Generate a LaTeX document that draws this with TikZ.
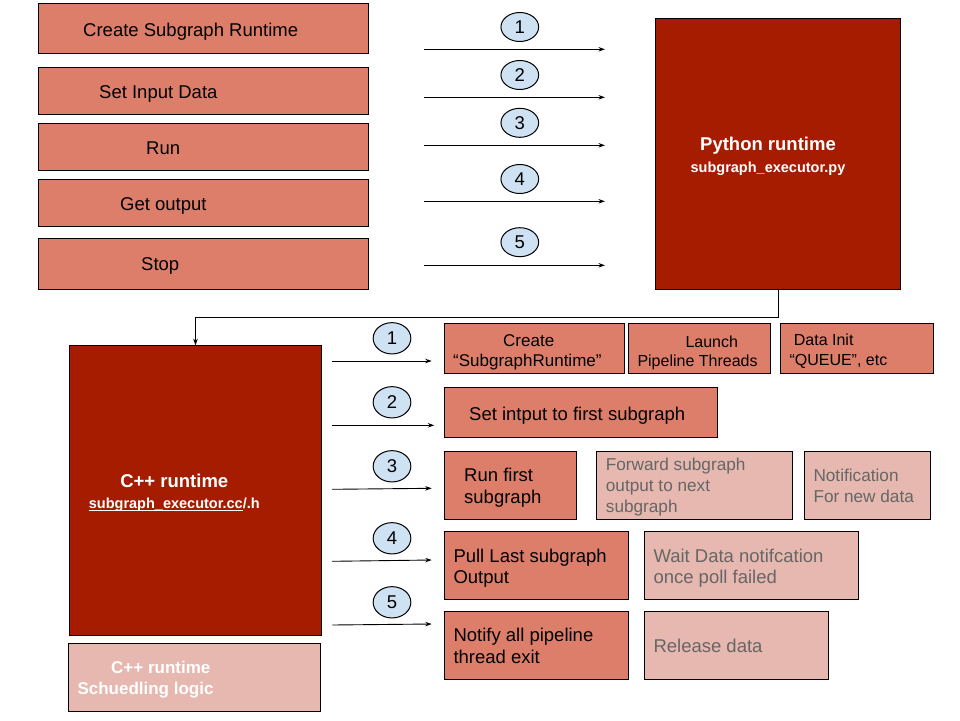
\documentclass[tikz,border=0pt]{standalone}
\usepackage{fontspec}
\setmainfont{Liberation Sans}
\usetikzlibrary{arrows.meta,shapes.geometric}
\definecolor{boxred}{HTML}{DD7E6B}
\definecolor{darkred}{HTML}{A61C00}
\definecolor{pinkbox}{HTML}{E6B8AF}
\definecolor{circblue}{HTML}{CFE2F3}
\definecolor{graytext}{HTML}{666666}
\newcommand\myul[1]{\setbox0\hbox{#1}\rlap{\rule[-1.8pt]{\wd0}{0.9pt}}\box0}
\begin{document}
\begin{tikzpicture}[x=1pt,y=-1pt,
  bx/.style={draw=black, line width=1pt, inner sep=0pt, outer sep=0pt, anchor=north west},
  redbox/.style={bx, fill=boxred},
  darkbox/.style={bx, fill=darkred},
  pinkb/.style={bx, fill=pinkbox},
  big/.style={font=\fontsize{18.5}{21.5}\selectfont, inner sep=0pt, align=left},
  midg/.style={font=\fontsize{17.2}{20.8}\selectfont, inner sep=0pt, align=left},
  mid/.style={font=\fontsize{17}{20.5}\selectfont, inner sep=0pt, align=left},
  small/.style={font=\fontsize{16}{19.5}\selectfont, inner sep=0pt, align=left},
  gtxt/.style={text=graytext},
  num/.style={ellipse, draw=black, line width=1pt, fill=circblue, minimum width=37.7pt, minimum height=29pt, inner sep=0pt, font=\fontsize{18.5}{21}\selectfont},
  numb/.style={num, minimum height=31.3pt},
  arr/.style={-{Stealth[length=6.5pt,width=4.5pt]}, line width=0.9pt}
]
\useasboundingbox (0,0) rectangle (960,720);

% ---------- top-left boxes ----------
\node[redbox, minimum width=330.4pt, minimum height=50pt] (t1) at (38.3,3.3) {};
\node[redbox, minimum width=330.4pt, minimum height=47pt] (t2) at (38.3,67.3) {};
\node[redbox, minimum width=330.4pt, minimum height=47pt] (t3) at (38.3,123.3) {};
\node[redbox, minimum width=330.4pt, minimum height=47pt] (t4) at (38.3,179.3) {};
\node[redbox, minimum width=330.4pt, minimum height=51pt] (t5) at (38.3,238.3) {};
\node[big, anchor=west] (t1l) at ([xshift=44.7pt,yshift=-3.3pt]t1.west) {Create Subgraph Runtime};
\node[big, anchor=west] (t2l) at ([xshift=60.7pt,yshift=-2.8pt]t2.west) {Set Input Data};
\node[big, anchor=west] (t3l) at ([xshift=107.7pt,yshift=-1pt]t3.west) {Run};
\node[big, anchor=west] (t4l) at ([xshift=81.7pt,yshift=-2.8pt]t4.west) {Get output};
\node[big, anchor=west] (t5l) at ([xshift=102.7pt,yshift=-1.8pt]t5.west) {Stop};

% ---------- top arrows ----------
\foreach \i/\y/\cy in {1/49.3/27, 2/97.3/75, 3/145.3/122.8, 4/201.3/179, 5/265.3/242.2}{
  \coordinate (as\i) at (424,\y);
  \coordinate (ae\i) at (605,\y);
  \draw[arr] (as\i) -- (ae\i);
  \node[num] (n\i) at (519.8,\cy) {\i};
}

% ---------- Python runtime ----------
\node[darkbox, minimum width=245.4pt, minimum height=271pt] (py) at (655.3,18.3) {};
\node[align=center, text=white, inner sep=0pt, font=\fontsize{18.5}{22.3}\selectfont\bfseries] (pyl) at (768,156)
  {Python runtime\\{\fontsize{14.5}{17}\selectfont subgraph\_executor.py}};

% ---------- C++ runtime ----------
\node[darkbox, minimum width=252.4pt, minimum height=290pt] (cpp) at (69.3,345.3) {};
\node[align=center, text=white, inner sep=0pt, font=\fontsize{18.5}{21.5}\selectfont\bfseries] (cppl) at (174.3,492.8)
  {C++ runtime\\{\fontsize{14.5}{17}\selectfont\myul{subgraph\_executor.cc}/.h}};

\node[pinkb, minimum width=252.4pt, minimum height=67.7pt] (sch) at (68.3,643.3) {};
\node[align=left, text=white, inner sep=0pt, anchor=west, font=\fontsize{17}{21}\selectfont\bfseries] (schl) at (77.3,679.4)
  {\hspace*{33.7pt}C++ runtime\\Schuedling logic};

% ---------- connector Python -> C++ ----------
\draw[arr] (py.south) -- ++(0,27.7) -| (cpp.north);

% ---------- lower arrows ----------
\coordinate (bs1) at (332.3,361);   \coordinate (be1) at (431.7,361);
\coordinate (bs2) at (332.3,425.3); \coordinate (be2) at (434.3,425.3);
\coordinate (bs3) at (332.3,489.3); \coordinate (be3) at (431.7,488.3);
\coordinate (bs4) at (332.3,561.3); \coordinate (be4) at (431.7,560);
\coordinate (bs5) at (332.3,625);   \coordinate (be5) at (431.7,624);
\foreach \i in {1,...,5}{ \draw[arr] (bs\i) -- (be\i); }
\node[numb] (m1) at (392,338.3) {1};
\node[numb] (m2) at (392,402.3) {2};
\node[numb] (m3) at (392,466.3) {3};
\node[numb] (m4) at (392,538.3) {4};
\node[numb] (m5) at (392,602.3) {5};

% ---------- step 1 boxes ----------
\node[redbox, minimum width=180pt, minimum height=49.6pt] (c1) at (444.3,323.7) {};
\node[redbox, minimum width=142.4pt, minimum height=49.6pt] (c2) at (628.3,323.7) {};
\node[redbox, minimum width=153pt, minimum height=49.6pt] (c3) at (780.3,323.7) {};
\node[mid, anchor=west] (c1l) at ([xshift=8.7pt,yshift=-3.7pt]c1.west) {\hspace*{50pt}Create\\“SubgraphRuntime”};
\node[small, anchor=west] (c2l) at ([xshift=9pt,yshift=-4.5pt]c2.west) {\hspace*{48pt}Launch\\Pipeline Threads};
\node[small, anchor=west] (c3l) at ([xshift=9pt,yshift=-2.5pt]c3.west) {\hspace*{4.4pt}Data Init\\“QUEUE”, etc};

% ---------- step 2 ----------
\node[redbox, minimum width=273.4pt, minimum height=49.6pt] (s2) at (444.3,387.7) {};
\node[big, anchor=west] (s2l) at ([xshift=24.7pt,yshift=-3pt]s2.west) {Set intput to first subgraph};

% ---------- step 3 ----------
\node[redbox, minimum width=132.4pt, minimum height=67.6pt] (s3) at (444.3,451.7) {};
\node[pinkb, minimum width=196.4pt, minimum height=67.6pt] (f3) at (596.3,451.7) {};
\node[pinkb, minimum width=126.4pt, minimum height=67.6pt] (o3) at (804.3,451.7) {};
\node[big, anchor=west] (s3l) at ([xshift=19.7pt,yshift=-2pt]s3.west) {Run first\\subgraph};
\node[midg, gtxt, anchor=west] (f3l) at ([xshift=9.4pt,yshift=-1.5pt]f3.west) {Forward subgraph\\output to next\\subgraph};
\node[midg, gtxt, anchor=west] (o3l) at ([xshift=9pt,yshift=-0.5pt]o3.west) {Notification\\For new data};

% ---------- step 4 ----------
\node[redbox, minimum width=184.4pt, minimum height=67.6pt] (s4) at (444.3,531.7) {};
\node[pinkb, minimum width=214pt, minimum height=67.6pt] (w4) at (644.3,531.7) {};
\node[big, anchor=west] (s4l) at ([xshift=9pt,yshift=-2.8pt]s4.west) {Pull Last subgraph\\Output};
\node[big, gtxt, anchor=west] (w4l) at ([xshift=9pt,yshift=-2.8pt]w4.west) {Wait Data notifcation\\once poll failed};

% ---------- step 5 ----------
\node[redbox, minimum width=184.4pt, minimum height=67.6pt] (s5) at (444.3,611.7) {};
\node[pinkb, minimum width=184.4pt, minimum height=67.6pt] (r5) at (644.3,611.7) {};
\node[big, anchor=west] (s5l) at ([xshift=9pt,yshift=-0.5pt]s5.west) {Notify all pipeline\\thread exit};
\node[big, gtxt, anchor=west] (r5l) at ([xshift=9pt,yshift=-0.5pt]r5.west) {Release data};
\end{tikzpicture}
\end{document}
